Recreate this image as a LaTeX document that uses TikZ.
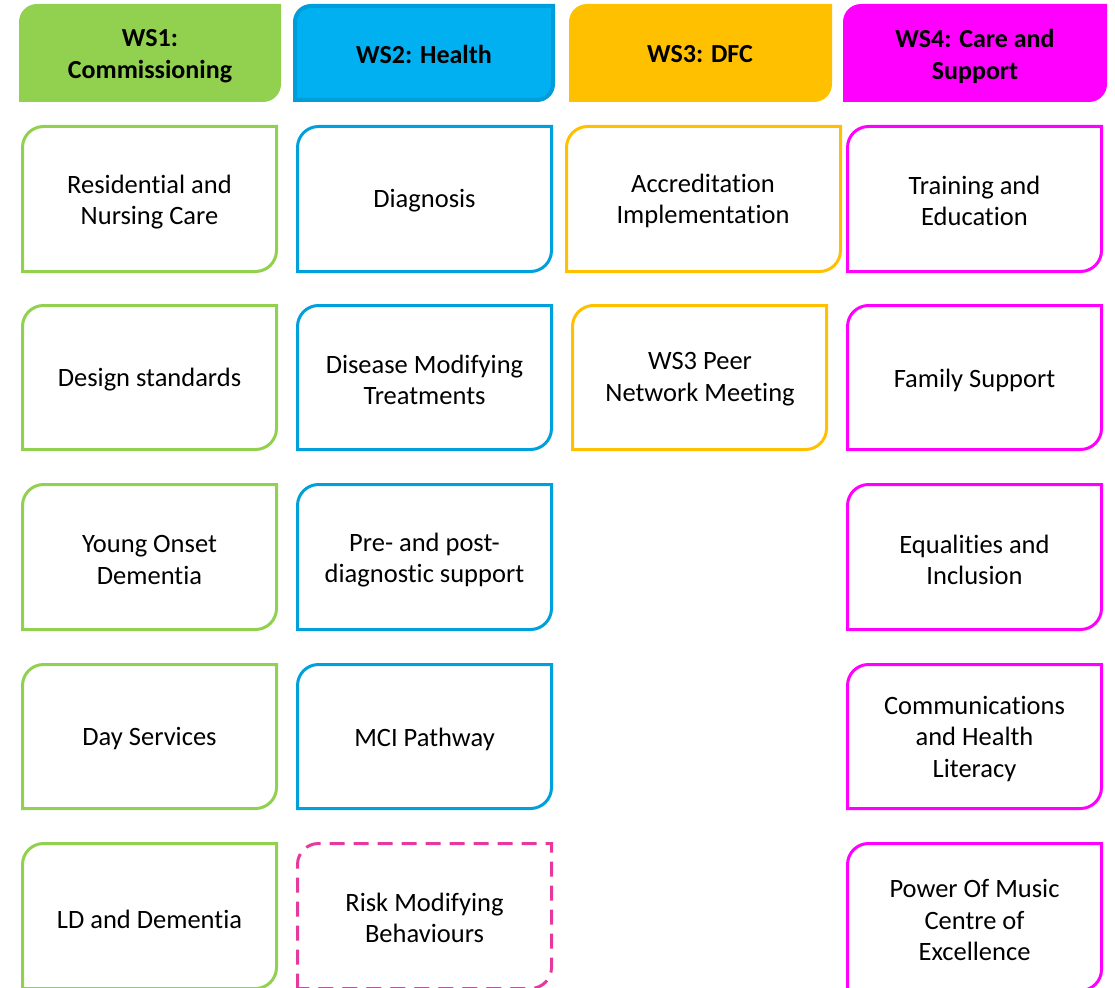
\documentclass[tikz,border=0pt]{standalone}
\usepackage{fontspec}
\setmainfont{Carlito}[Ligatures=NoCommon]
\definecolor{wsgreen}{HTML}{92D050}
\definecolor{wsblue}{HTML}{00B0F0}
\definecolor{wsblueline}{HTML}{009DDB}
\definecolor{wsboxblue}{HTML}{00A0DC}
\definecolor{wsgold}{HTML}{FFC000}
\definecolor{wsmag}{HTML}{FF00FF}
\definecolor{wspink}{HTML}{E6399B}
% shape with rounded top-left and bottom-right corners: style, x1, y1, x2, y2, r
\newcommand{\wsshape}[6]{%
  \path[#1] (#2,#5) -- (#2,#3+#6)
    .. controls (#2,#3+0.448*#6) and (#2+0.448*#6,#3) .. (#2+#6,#3)
    -- (#4,#3) -- (#4,#5-#6)
    .. controls (#4,#5-0.448*#6) and (#4-0.448*#6,#5) .. (#4-#6,#5)
    -- cycle;}
\tikzset{
  lbl/.style={align=center, font=\fontsize{26.5}{31.5}\selectfont, inner sep=0pt},
  hlbl/.style={align=center, font=\fontsize{26}{32}\selectfont\bfseries, inner sep=0pt},
  greenbox/.style={draw=wsgreen, line width=3pt, fill=white},
  bluebox/.style={draw=wsboxblue, line width=3pt, fill=white},
  goldbox/.style={draw=wsgold, line width=3pt, fill=white},
  magbox/.style={draw=wsmag, line width=3pt, fill=white},
  pinkdash/.style={draw=wspink, line width=3pt, fill=white, dash pattern=on 15pt off 9pt},
}
\begin{document}
\begin{tikzpicture}[x=1pt,y=-1pt]
\useasboundingbox (0,0) rectangle (1115,987);
\fill[white] (0,0) rectangle (1115,987);
\begin{scope}
\clip (0,0) rectangle (1115,987);
% headers
\wsshape{fill=wsgreen}{19}{4}{281}{102}{18}
\wsshape{fill=wsblue, draw=wsblueline, line width=4pt}{295}{6}{553}{100}{16}
\wsshape{fill=wsgold}{569}{4}{832}{102}{18}
\wsshape{fill=wsmag}{843}{4}{1107}{102}{18}
\node[hlbl] (h1) at (150,56) {WS1:\\Commissioning};
\node[hlbl] (h2) at (424,54) {WS2: Health};
\node[hlbl] (h3) at (700,54) {WS3: DFC};
\node[hlbl] (h4) at (975,56) {WS4: Care and\\Support};
% column 1
\wsshape{greenbox}{22.5}{126.5}{276.5}{271.5}{21}
\wsshape{greenbox}{22.5}{305.5}{276.5}{449.5}{21}
\wsshape{greenbox}{22.5}{484.5}{276.5}{629.5}{21}
\wsshape{greenbox}{22.5}{664.5}{276.5}{808.5}{21}
\wsshape{greenbox}{22.5}{843.5}{276.5}{988.5}{21}
\node[lbl] (a1) at (149.5,202) {Residential and\\Nursing Care};
\node[lbl] (a2) at (149.5,380) {Design standards};
\node[lbl] (a3) at (149.5,560) {Young Onset\\Dementia};
\node[lbl] (a4) at (149.5,739) {Day Services};
\node[lbl] (a5) at (149.5,919) {LD and Dementia};
% column 2
\wsshape{bluebox}{297.5}{126.5}{551.5}{271.5}{21}
\wsshape{bluebox}{297.5}{305.5}{551.5}{449.5}{21}
\wsshape{bluebox}{297.5}{484.5}{551.5}{629.5}{21}
\wsshape{bluebox}{297.5}{664.5}{551.5}{808.5}{21}
\wsshape{pinkdash}{297.5}{843.5}{551.5}{988.5}{21}
\node[lbl] (b1) at (424.5,201) {Diagnosis};
\node[lbl] (b2) at (424.5,380) {Disease Modifying\\Treatments};
\node[lbl] (b3) at (424.5,560) {Pre- and post-\\diagnostic support};
\node[lbl] (b4) at (424.5,739) {MCI Pathway};
\node[lbl] (b5) at (424.5,918) {Risk Modifying\\Behaviours};
% column 3
\wsshape{goldbox}{566.5}{126.5}{840.5}{271.5}{21}
\wsshape{goldbox}{572.5}{305.5}{826.5}{449.5}{21}
\node[lbl] (c1) at (703,201) {Accreditation\\Implementation};
\node[lbl] (c2) at (700,379) {WS3 Peer\\Network Meeting};
% column 4
\wsshape{magbox}{847.5}{126.5}{1101.5}{271.5}{21}
\wsshape{magbox}{847.5}{305.5}{1101.5}{449.5}{21}
\wsshape{magbox}{847.5}{484.5}{1101.5}{629.5}{21}
\wsshape{magbox}{847.5}{664.5}{1101.5}{808.5}{21}
\wsshape{magbox}{847.5}{843.5}{1101.5}{990.5}{21}
\node[lbl] (d1) at (974.5,201) {Training and\\Education};
\node[lbl] (d2) at (974.5,380) {Family Support};
\node[lbl] (d3) at (974.5,560) {Equalities and\\Inclusion};
\node[lbl] (d4) at (974.5,739) {Communications\\and Health\\Literacy};
\node[lbl] (d5) at (974.5,920) {Power Of Music\\Centre of\\Excellence};
\end{scope}
\end{tikzpicture}
\end{document}
